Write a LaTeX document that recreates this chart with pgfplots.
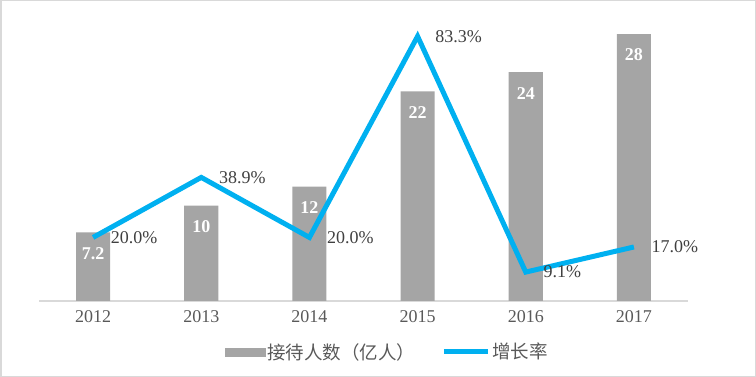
\documentclass[border=0pt]{standalone}
\usepackage{pgfplots}
\pgfplotsset{compat=1.18}
\usepackage{fontspec}
\setmainfont{Liberation Serif}
\newfontfamily\cjk{Noto Sans CJK SC}
\definecolor{bargray}{HTML}{A5A5A5}
\definecolor{linecyan}{HTML}{00B0F0}
\definecolor{axgray}{HTML}{D9D9D9}
\definecolor{txtgray}{HTML}{595959}
\definecolor{lblgray}{HTML}{404040}
\begin{document}
\begin{tikzpicture}
\useasboundingbox (0,0) rectangle (756bp,377bp);
\draw[axgray, line width=1.5bp] (0.75bp,0.75bp) rectangle (755.25bp,376.25bp);
\begin{axis}[
  at={(39bp,76bp)}, anchor=south west,
  scale only axis, width=649bp, height=286bp,
  xmin=-0.5, xmax=5.5, ymin=0, ymax=30,
  axis x line=bottom, axis y line=none,
  x axis line style={draw=axgray, line width=1.5bp, -},
  xtick={0,1,2,3,4,5}, xticklabels={2012,2013,2014,2015,2016,2017},
  major tick length=0,
  xticklabel style={font=\fontsize{18bp}{20bp}\selectfont, text=txtgray, yshift=-6bp},
  ybar, bar width=34bp, clip=false,
  nodes near coords, point meta=explicit symbolic,
  every node near coord/.append style={font=\bfseries\fontsize{18bp}{20bp}\selectfont, text=white, anchor=center, yshift=-21bp},
]
\addplot[fill=bargray, draw=none] coordinates {(0,7.2)[7.2] (1,10)[10] (2,12)[12] (3,22)[22] (4,24)[24] (5,28)[28]};
\end{axis}
\begin{axis}[
  at={(39bp,76bp)}, anchor=south west,
  scale only axis, width=649bp, height=286bp,
  xmin=-0.5, xmax=5.5, ymin=0, ymax=90,
  axis lines=none, clip=false,
  nodes near coords, point meta=explicit symbolic,
  every node near coord/.append style={font=\fontsize{18bp}{20bp}\selectfont, text=lblgray, anchor=west, xshift=12bp},
  legend style={at={(0.537,-0.178)}, anchor=center, draw=none, fill=none,
    legend columns=2, font=\cjk\fontsize{18.5bp}{21bp}\selectfont, text=txtgray,
    /tikz/every even column/.append style={column sep=24bp}},
]
\addlegendimage{legend image code/.code={\fill[bargray] (0bp,-4bp) rectangle (40bp,4bp);}}
\addlegendentry{接待人数（亿人）}
\addplot[linecyan, line width=5bp, mark=none,
  legend image code/.code={\draw[linecyan, line width=5bp] (0bp,0bp) -- (44bp,0bp);}]
  coordinates {(0,20)[20.0\%] (1,38.9)[38.9\%] (2,20)[20.0\%] (3,83.3)[83.3\%] (4,9.1)[9.1\%] (5,17)[17.0\%]};
\addlegendentry{增长率}
\end{axis}
\end{tikzpicture}
\end{document}
